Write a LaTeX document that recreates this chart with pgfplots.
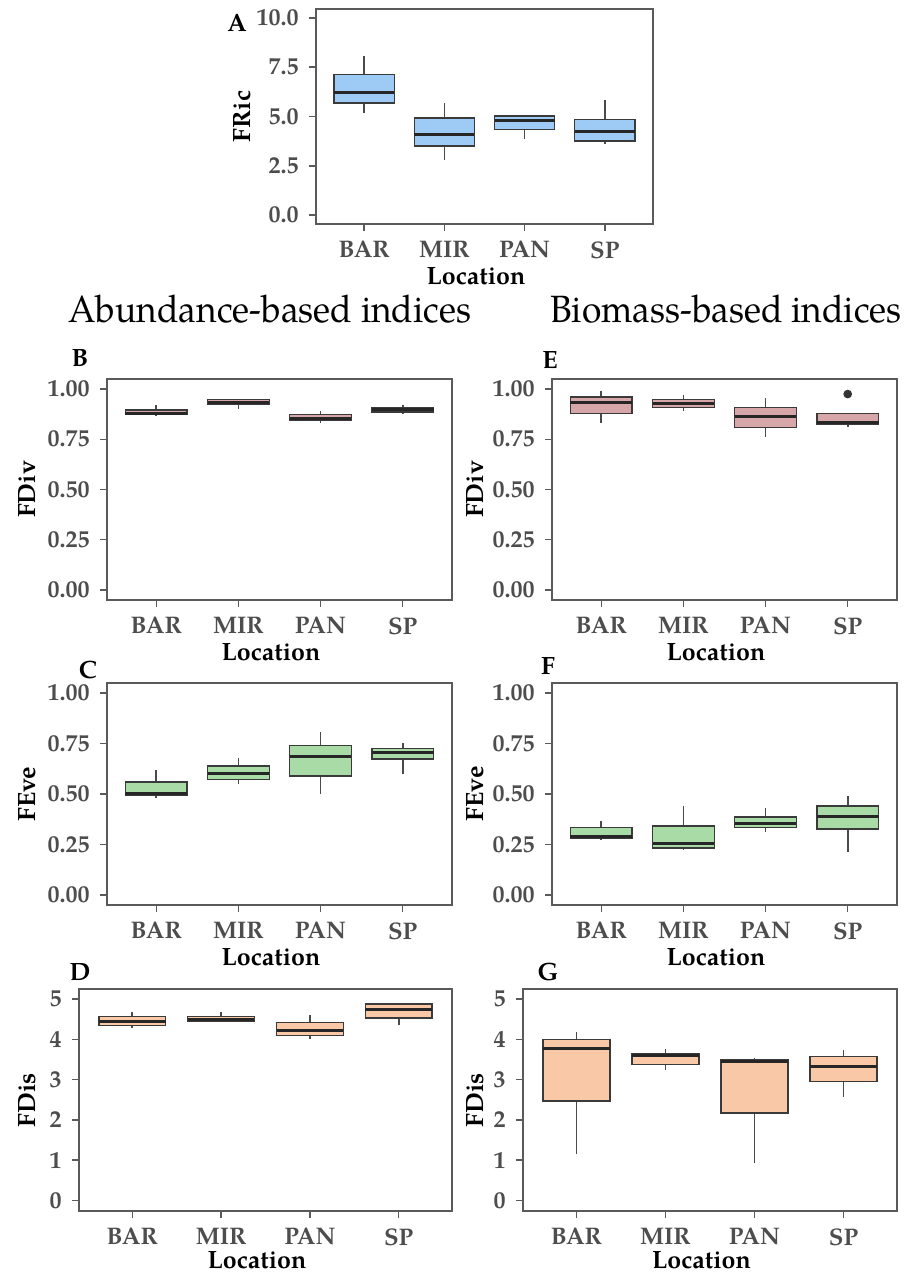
\documentclass[border=0pt]{standalone}
\usepackage{fontspec}
\setmainfont{TeX Gyre Pagella}
\usepackage{pgfplots}
\pgfplotsset{compat=1.18}
\usepgfplotslibrary{statistics}

\definecolor{blueF}{HTML}{9ECBF5}
\definecolor{pinkF}{HTML}{D6A6A9}
\definecolor{greenF}{HTML}{A8DBA6}
\definecolor{peachF}{HTML}{F9C8A6}
\definecolor{boxline}{HTML}{3A3A3A}
\definecolor{whisk}{HTML}{4A4A4A}
\definecolor{frame}{HTML}{5A5A5A}
\definecolor{labgray}{HTML}{4D4D4D}

\pgfplotsset{
  panel/.style={
    scale only axis, anchor=south west,
    xmin=0.4, xmax=4.6, xtick={1,2,3,4}, xticklabels={BAR,MIR,PAN,SP},
    tick pos=left, tick align=outside, major tick length=3.5pt,
    axis line style={draw=frame, line width=0.75pt},
    tick style={draw=frame, line width=0.75pt},
    ticklabel style={font=\fontsize{12}{14}\selectfont\bfseries, text=labgray, inner sep=0pt},
    xticklabel style={yshift=-5pt},
    yticklabel style={xshift=-5pt},
    label style={font=\fontsize{12.5}{15}\selectfont\bfseries},
    xlabel=Location,
    xlabel style={at={(axis description cs:0.5,0)}, anchor=center, yshift=-26pt, xshift=-4.25pt},
  },
  ylab/.style 2 args={ylabel={#1},
    ylabel style={at={(axis description cs:#2,0.5)}, anchor=center}},
  bp/.style={fill=#1, draw=boxline, line width=0.7pt,
    boxplot/draw direction=y,
    boxplot/box extend=0.75, boxplot/whisker extend=0,
    boxplot/every median/.style={draw=black!85, line width=1.5pt},
    boxplot/every whisker/.style={draw=whisk, line width=0.8pt}},
}

\begin{document}
\begin{tikzpicture}
\useasboundingbox (0,0) rectangle (454pt,637pt);

% panel letters and headings
\node[anchor=base, font=\fontsize{12.5}{15}\selectfont\bfseries] at (118.5pt,621pt) {A};
\node[anchor=base, font=\fontsize{12.5}{15}\selectfont\bfseries] at (40pt,453.5pt) {B};
\node[anchor=base, font=\fontsize{12.5}{15}\selectfont\bfseries] at (44pt,297.5pt) {C};
\node[anchor=base, font=\fontsize{12.5}{15}\selectfont\bfseries] at (40pt,146.5pt) {D};
\node[anchor=base, font=\fontsize{12.5}{15}\selectfont\bfseries] at (275pt,452.5pt) {E};
\node[anchor=base, font=\fontsize{12.5}{15}\selectfont\bfseries] at (274pt,299.5pt) {F};
\node[anchor=base, font=\fontsize{12.5}{15}\selectfont\bfseries] at (274pt,146.5pt) {G};
\node[anchor=base, font=\fontsize{19}{22}\selectfont] at (135pt,475.5pt) {\scalebox{0.93}[1]{Abundance-based indices}};
\node[anchor=base, font=\fontsize{19}{22}\selectfont] at (363pt,475.5pt) {\scalebox{0.93}[1]{Biomass-based indices}};

% A: FRic
\begin{axis}[panel, at={(158pt,525pt)}, width=168.5pt, height=107.5pt,
  ymin=-0.45, ymax=10.45, ytick={0,2.5,5,7.5,10},
  yticklabels={0.0,2.5,5.0,7.5,10.0}, ylab={FRic}{-0.2196}]
\addplot[bp=blueF, boxplot prepared={draw position=1, lower whisker=5.19, lower quartile=5.69, median=6.23, upper quartile=7.13, upper whisker=8.09}] coordinates {};
\addplot[bp=blueF, boxplot prepared={draw position=2, lower whisker=2.79, lower quartile=3.50, median=4.09, upper quartile=4.93, upper whisker=5.66}] coordinates {};
\addplot[bp=blueF, boxplot prepared={draw position=3, lower whisker=3.87, lower quartile=4.34, median=4.81, upper quartile=5.02, upper whisker=5.04}] coordinates {};
\addplot[bp=blueF, boxplot prepared={draw position=4, lower whisker=3.58, lower quartile=3.75, median=4.26, upper quartile=4.85, upper whisker=5.83}] coordinates {};
\end{axis}

% B: FDiv abundance
\begin{axis}[panel, at={(53.5pt,337pt)}, width=172.5pt, height=110.5pt,
  ymin=-0.05, ymax=1.05, ytick={0,0.25,0.5,0.75,1},
  yticklabels={0.00,0.25,0.50,0.75,1.00}, ylab={FDiv}{-0.2319}]
\addplot[bp=pinkF, boxplot prepared={draw position=1, lower whisker=0.865, lower quartile=0.872, median=0.877, upper quartile=0.895, upper whisker=0.92}] coordinates {};
\addplot[bp=pinkF, boxplot prepared={draw position=2, lower whisker=0.90, lower quartile=0.922, median=0.935, upper quartile=0.947, upper whisker=0.95}] coordinates {};
\addplot[bp=pinkF, boxplot prepared={draw position=3, lower whisker=0.833, lower quartile=0.842, median=0.855, upper quartile=0.872, upper whisker=0.893}] coordinates {};
\addplot[bp=pinkF, boxplot prepared={draw position=4, lower whisker=0.875, lower quartile=0.885, median=0.897, upper quartile=0.908, upper whisker=0.92}] coordinates {};
\end{axis}

% C: FEve abundance
\begin{axis}[panel, at={(53.5pt,184.5pt)}, width=172.5pt, height=111pt,
  ymin=-0.05, ymax=1.05, ytick={0,0.25,0.5,0.75,1},
  yticklabels={0.00,0.25,0.50,0.75,1.00}, ylab={FEve}{-0.2319}]
\addplot[bp=greenF, boxplot prepared={draw position=1, lower whisker=0.479, lower quartile=0.493, median=0.503, upper quartile=0.559, upper whisker=0.618}] coordinates {};
\addplot[bp=greenF, boxplot prepared={draw position=2, lower whisker=0.548, lower quartile=0.572, median=0.602, upper quartile=0.638, upper whisker=0.679}] coordinates {};
\addplot[bp=greenF, boxplot prepared={draw position=3, lower whisker=0.502, lower quartile=0.589, median=0.684, upper quartile=0.740, upper whisker=0.806}] coordinates {};
\addplot[bp=greenF, boxplot prepared={draw position=4, lower whisker=0.597, lower quartile=0.674, median=0.704, upper quartile=0.725, upper whisker=0.753}] coordinates {};
\end{axis}

% D: FDis abundance
\begin{axis}[panel, at={(39.5pt,31.5pt)}, width=186.5pt, height=111pt,
  ymin=-0.26, ymax=5.25, ytick={0,1,2,3,4,5},
  yticklabels={0,1,2,3,4,5}, ylab={FDis}{-0.1394},
  xlabel style={yshift=1.5pt}]
\addplot[bp=peachF, boxplot prepared={draw position=1, lower whisker=4.28, lower quartile=4.34, median=4.44, upper quartile=4.57, upper whisker=4.69}] coordinates {};
\addplot[bp=peachF, boxplot prepared={draw position=2, lower whisker=4.45, lower quartile=4.45, median=4.49, upper quartile=4.57, upper whisker=4.69}] coordinates {};
\addplot[bp=peachF, boxplot prepared={draw position=3, lower whisker=4.01, lower quartile=4.09, median=4.21, upper quartile=4.42, upper whisker=4.61}] coordinates {};
\addplot[bp=peachF, boxplot prepared={draw position=4, lower whisker=4.36, lower quartile=4.53, median=4.73, upper quartile=4.88, upper whisker=4.89}] coordinates {};
\end{axis}

% E: FDiv biomass
\begin{axis}[panel, at={(276pt,337pt)}, width=172.5pt, height=110.5pt,
  ymin=-0.05, ymax=1.05, ytick={0,0.25,0.5,0.75,1},
  yticklabels={0.00,0.25,0.50,0.75,1.00}, ylab={FDiv}{-0.2232}]
\addplot[bp=pinkF, boxplot prepared={draw position=1, lower whisker=0.83, lower quartile=0.877, median=0.933, upper quartile=0.96, upper whisker=0.988}] coordinates {};
\addplot[bp=pinkF, boxplot prepared={draw position=2, lower whisker=0.893, lower quartile=0.908, median=0.927, upper quartile=0.947, upper whisker=0.968}] coordinates {};
\addplot[bp=pinkF, boxplot prepared={draw position=3, lower whisker=0.763, lower quartile=0.808, median=0.863, upper quartile=0.908, upper whisker=0.955}] coordinates {};
\addplot[bp=pinkF, mark=*, mark size=1.8pt, mark options={draw=black!80, fill=black!80},
  boxplot prepared={draw position=4, lower whisker=0.813, lower quartile=0.825, median=0.833, upper quartile=0.877, upper whisker=0.878}]
  table[row sep=\\, y index=0] {data\\ 0.975\\};
\end{axis}

% F: FEve biomass
\begin{axis}[panel, at={(276pt,184.5pt)}, width=172.5pt, height=111pt,
  ymin=-0.05, ymax=1.05, ytick={0,0.25,0.5,0.75,1},
  yticklabels={0.00,0.25,0.50,0.75,1.00}, ylab={FEve}{-0.2232}]
\addplot[bp=greenF, boxplot prepared={draw position=1, lower whisker=0.273, lower quartile=0.281, median=0.289, upper quartile=0.334, upper whisker=0.367}] coordinates {};
\addplot[bp=greenF, boxplot prepared={draw position=2, lower whisker=0.222, lower quartile=0.232, median=0.255, upper quartile=0.342, upper whisker=0.441}] coordinates {};
\addplot[bp=greenF, boxplot prepared={draw position=3, lower whisker=0.313, lower quartile=0.334, median=0.355, upper quartile=0.387, upper whisker=0.429}] coordinates {};
\addplot[bp=greenF, boxplot prepared={draw position=4, lower whisker=0.215, lower quartile=0.326, median=0.388, upper quartile=0.441, upper whisker=0.490}] coordinates {};
\end{axis}

% G: FDis biomass
\begin{axis}[panel, at={(261.5pt,31.5pt)}, width=187pt, height=111pt,
  ymin=-0.26, ymax=5.25, ytick={0,1,2,3,4,5},
  yticklabels={0,1,2,3,4,5}, ylab={FDis}{-0.1283},
  xlabel style={yshift=1.5pt}]
\addplot[bp=peachF, boxplot prepared={draw position=1, lower whisker=1.15, lower quartile=2.47, median=3.78, upper quartile=4.00, upper whisker=4.19}] coordinates {};
\addplot[bp=peachF, boxplot prepared={draw position=2, lower whisker=3.25, lower quartile=3.38, median=3.59, upper quartile=3.65, upper whisker=3.75}] coordinates {};
\addplot[bp=peachF, boxplot prepared={draw position=3, lower whisker=0.92, lower quartile=2.17, median=3.44, upper quartile=3.50, upper whisker=3.53}] coordinates {};
\addplot[bp=peachF, boxplot prepared={draw position=4, lower whisker=2.57, lower quartile=2.96, median=3.32, upper quartile=3.57, upper whisker=3.73}] coordinates {};
\end{axis}
\end{tikzpicture}
\end{document}
